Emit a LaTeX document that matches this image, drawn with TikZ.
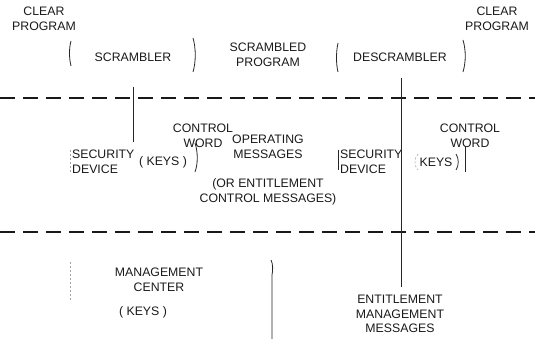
\documentclass[tikz,border=0pt]{standalone}
\usepackage{fontspec}
\setmainfont{Liberation Sans}
\begin{document}
\begin{tikzpicture}[x=1pt,y=-1pt,
  lbl/.style={font=\fontsize{12.3}{14.5}\selectfont, align=center, inner sep=0pt, text=black!90},
  brk/.style={draw=black!85, line width=0.8pt},
  faint/.style={draw=black!35, line width=0.6pt, dash pattern=on 2pt off 2pt},
  sep/.style={draw=black!90, line width=2.2pt, dash pattern=on 15pt off 8pt},
  wire/.style={draw=black!85, line width=0.8pt}]
\useasboundingbox (0,0) rectangle (535,339);
% texts
\node[lbl] (clearL) at (44,19) {CLEAR\\PROGRAM};
\node[lbl] (scr) at (133,57) {SCRAMBLER};
\node[lbl] (scrprog) at (268,55) {SCRAMBLED\\PROGRAM};
\node[lbl] (descr) at (400,57) {DESCRAMBLER};
\node[lbl] (clearR) at (497,19) {CLEAR\\PROGRAM};
\node[lbl] (cwL) at (203,136) {CONTROL\\WORD};
\node[lbl] (cwR) at (470,136) {CONTROL\\WORD};
\node[lbl, align=left, anchor=west] (sdL) at (72,162) {SECURITY\\DEVICE};
\node[lbl] (keysL) at (163,162) {( KEYS )};
\node[lbl] (om) at (268,147) {OPERATING\\MESSAGES};
\node[lbl] (ecm) at (268,192) {(OR ENTITLEMENT\\CONTROL MESSAGES)};
\node[lbl, align=left, anchor=west] (sdR) at (340,162) {SECURITY\\DEVICE};
\node[lbl] (keysR) at (436,162) {KEYS};
\node[lbl] (mc) at (159,280) {MANAGEMENT\\CENTER};
\node[lbl] (keysM) at (143,312) {( KEYS )};
\node[lbl] (emm) at (400,314) {ENTITLEMENT\\MANAGEMENT\\MESSAGES};
% faint parens around right KEYS
\draw[faint] (418,154) .. controls (414,158) and (414,166) .. (418,170);
\draw[brk] (456,154) .. controls (459,158) and (459,166) .. (456,170);
% separators
\coordinate (s1a) at (0,98); \coordinate (s1b) at (535,98);
\coordinate (s2a) at (0,232); \coordinate (s2b) at (535,232);
\draw[sep] (s1a) -- (s1b);
\draw[sep] (s2a) -- (s2b);
% scrambler box sides
\draw[brk] (71,41) .. controls (69,48) and (69,58) .. (71,66);
\draw[brk] (193,38) .. controls (196,48) and (196,62) .. (193,72);
% descrambler box sides
\draw[brk] (338,43) .. controls (336,52) and (336,64) .. (338,72);
\draw[brk] (463,40) .. controls (466,50) and (466,62) .. (463,72);
% security device left
\draw[faint] (70,150) -- (70,172);
\draw[brk] (195,143) .. controls (198,152) and (198,164) .. (195,172);
% security device right
\draw[brk] (338,150) -- (338,170);
\draw[brk] (465,146) -- (465,172);
% management center
\draw[faint] (70,262) -- (70,300);
\draw[brk] (271,260) .. controls (273,264) and (273,270) .. (272,275) -- (272,339);
% connectors
\coordinate (c1) at (133,87);
\coordinate (c2) at (133,142);
\draw[wire] (c1) -- (c2);
\coordinate (d1) at (401,78);
\coordinate (d2) at (401,287);
\draw[wire] (d1) -- (d2);
\end{tikzpicture}
\end{document}
